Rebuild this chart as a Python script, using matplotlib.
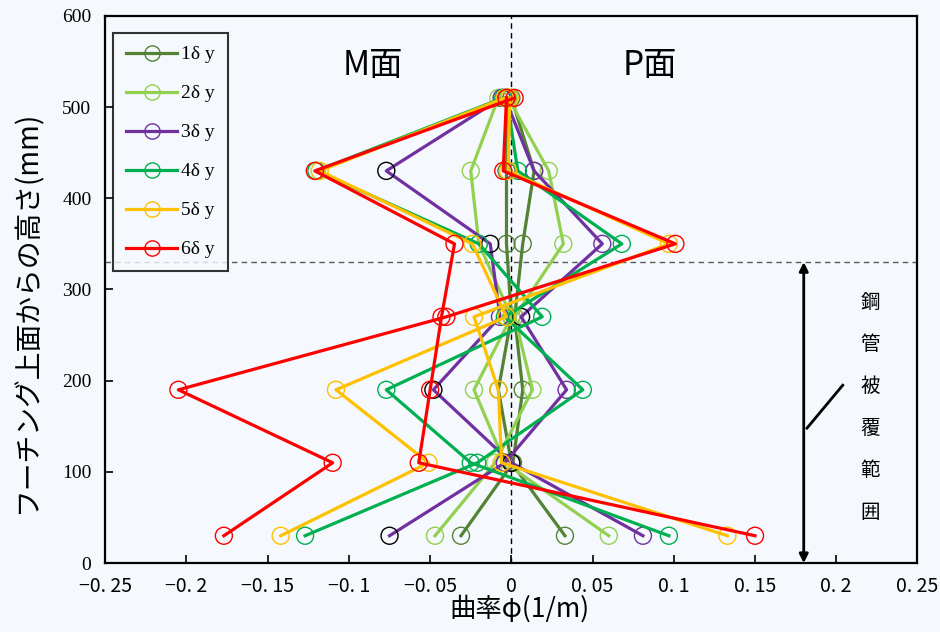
import matplotlib
matplotlib.use("Agg")
import matplotlib.pyplot as plt
import numpy as np

plt.rcParams["font.family"] = ["Noto Sans CJK JP", "DejaVu Sans"]

# measurement heights (mm), bottom to top
heights = [30, 110, 190, 270, 350, 430, 510]

labels = ["1δ y", "2δ y", "3δ y", "4δ y", "5δ y", "6δ y"]
colors = ["#548235", "#92d050", "#7030a0", "#00b050", "#ffc000", "#ff0000"]

# curvature (1/m), two traces per load step
phi_1a = [0.033, 0.000, -0.008, 0.000, -0.003, -0.003, -0.002]
phi_1b = [-0.031, 0.001, 0.007, 0.002, 0.007, 0.014, 0.000]
phi_2a = [0.060, -0.004, -0.023, 0.000, -0.020, -0.025, -0.008]
phi_2b = [-0.047, -0.010, 0.013, 0.002, 0.032, 0.023, -0.002]
phi_3a = [0.081, 0.000, -0.048, -0.007, -0.013, -0.077, -0.006]
phi_3b = [-0.075, -0.004, 0.034, 0.006, 0.056, 0.014, -0.004]
phi_4a = [0.097, -0.025, -0.077, 0.019, -0.020, -0.120, -0.005]
phi_4b = [-0.127, -0.021, 0.044, -0.004, 0.068, 0.004, -0.003]
phi_5a = [-0.142, -0.051, -0.108, -0.003, -0.024, -0.118, -0.004]
phi_5b = [0.133, -0.006, -0.008, -0.023, 0.097, -0.002, -0.001]
phi_6a = [0.150, -0.057, -0.050, -0.043, -0.035, -0.121, 0.002]
phi_6b = [-0.177, -0.110, -0.205, -0.040, 0.101, -0.005, -0.003]

traces = [
    (phi_1a, phi_1b),
    (phi_2a, phi_2b),
    (phi_3a, phi_3b),
    (phi_4a, phi_4b),
    (phi_5a, phi_5b),
    (phi_6a, phi_6b),
]

# 3δy markers on the M side are drawn in black
marker_3a = ["#7030a0", "black", "black", "#7030a0", "black", "black", "#7030a0"]
marker_3b = ["black", "#7030a0", "#7030a0", "black", "#7030a0", "#7030a0", "#7030a0"]

coating_top = 330
xticks = [-0.25, -0.2, -0.15, -0.1, -0.05, 0, 0.05, 0.1, 0.15, 0.2, 0.25]
xtick_labels = ["−0. 25", "−0. 2", "−0. 15", "−0. 1", "−0. 05", "0",
                "0. 05", "0. 1", "0. 15", "0. 2", "0. 25"]
yticks = [0, 100, 200, 300, 400, 500, 600]

bg = "#f5f8fc"
fig = plt.figure(figsize=(9.4, 6.32), dpi=100, facecolor=bg)
ax = fig.add_axes([0.112, 0.109, 0.864, 0.866], facecolor=bg)

ax.axvline(0, color="black", lw=1.0, ls=(0, (4, 3)), zorder=1)
ax.axhline(coating_top, color="#595959", lw=1.0, ls=(0, (4, 3)), zorder=1)

for i, (a, b) in enumerate(traces):
    c = colors[i]
    for j, vals in enumerate((a, b)):
        ax.plot(vals, heights, color=c, lw=2.3, zorder=2 + i,
                label=labels[i] if j == 0 else None)
        if i == 2:
            ec = marker_3a if j == 0 else marker_3b
        else:
            ec = c
        ax.scatter(vals, heights, s=150, facecolors="none", edgecolors=ec,
                   linewidths=1.0, zorder=2 + i)

# coating range arrow and its label
ax.annotate("", xy=(0.18, 0), xytext=(0.18, coating_top),
            arrowprops=dict(arrowstyle="<|-|>", color="black", lw=2,
                            mutation_scale=13, shrinkA=0, shrinkB=0))
ax.plot([0.182, 0.204], [148, 195], color="black", lw=2)
for k, ch in enumerate("鋼管被覆範囲"):
    ax.text(0.221, 286 - k * 46, ch, fontsize=14, ha="center", va="center")

ax.text(-0.085, 545, "M面", fontsize=24, ha="center", va="center")
ax.text(0.085, 545, "P面", fontsize=24, ha="center", va="center")

ax.set_xlim(-0.25, 0.25)
ax.set_ylim(0, 600)
ax.set_xticks(xticks)
ax.set_xticklabels(xtick_labels, fontsize=14)
ax.set_yticks(yticks)
ax.set_yticklabels([str(v) for v in yticks], fontsize=14,
                   family="Liberation Serif")
ax.tick_params(direction="in", length=6, width=1.2)
ax.tick_params(axis="x", pad=9)
ax.tick_params(axis="y", pad=10)
for s in ax.spines.values():
    s.set_linewidth(1.6)

ax.set_xlabel("曲率φ(1/m)", fontsize=19)
ax.xaxis.set_label_coords(0.51, -0.058)
ax.set_ylabel("フーチング上面からの高さ(mm)", fontsize=20)
ax.yaxis.set_label_coords(-0.078, 0.46)

leg = ax.legend(loc="upper left", bbox_to_anchor=(0.01, 0.969),
                borderaxespad=0, frameon=True, fancybox=False,
                edgecolor="black", facecolor=bg,
                prop={"family": "Liberation Serif", "size": 14},
                handlelength=2.6, labelspacing=1.1, borderpad=0.67,
                handletextpad=0.2)
leg.get_frame().set_linewidth(1.5)
for h, c in zip(leg.legend_handles, colors):
    h.set_marker("o")
    h.set_markersize(11)
    h.set_markerfacecolor("none")
    h.set_markeredgecolor(c)
    h.set_markeredgewidth(1.0)

fig.savefig("out.png", dpi=100, facecolor=bg)
